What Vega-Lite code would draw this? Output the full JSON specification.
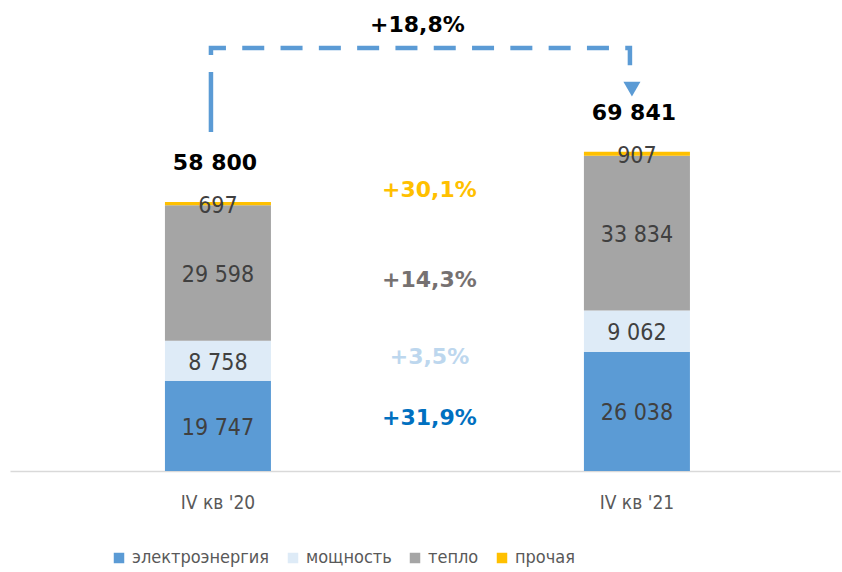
{
  "$schema": "https://vega.github.io/schema/vega-lite/v6.json",
  "width": 830,
  "height": 471,
  "autosize": {"type": "none"},
  "padding": {"left": 10, "top": 0, "right": 2, "bottom": 101},
  "config": {
    "view": {"stroke": null},
    "font": "DejaVu Sans Condensed",
    "locale": {"number": {"decimal": ",", "thousands": " ", "grouping": [3], "currency": ["", ""]}}
  },
  "datasets": {
    "seg": [
      {"q": "IV кв '20", "cat": "электроэнергия", "v": 19747, "ord": 1},
      {"q": "IV кв '20", "cat": "мощность", "v": 8758, "ord": 2},
      {"q": "IV кв '20", "cat": "тепло", "v": 29598, "ord": 3},
      {"q": "IV кв '20", "cat": "прочая", "v": 697, "ord": 4},
      {"q": "IV кв '21", "cat": "электроэнергия", "v": 26038, "ord": 1},
      {"q": "IV кв '21", "cat": "мощность", "v": 9062, "ord": 2},
      {"q": "IV кв '21", "cat": "тепло", "v": 33834, "ord": 3},
      {"q": "IV кв '21", "cat": "прочая", "v": 907, "ord": 4}
    ],
    "tot": [
      {"q": "IV кв '20", "total": 58800},
      {"q": "IV кв '21", "total": 69841}
    ],
    "chg": [
      {"q": "mid", "cat": "прочая", "lbl": "+30,1%", "yv": 61450},
      {"q": "mid", "cat": "тепло", "lbl": "+14,3%", "yv": 41770},
      {"q": "mid", "cat": "мощность", "lbl": "+3,5%", "yv": 24930},
      {"q": "mid", "cat": "электроэнергия", "lbl": "+31,9%", "yv": 11590}
    ],
    "arrow": [
      {"q": "IV кв '20", "yv": 74130, "ord": 1},
      {"q": "IV кв '20", "yv": 92500, "ord": 2},
      {"q": "IV кв '21", "yv": 92500, "ord": 3},
      {"q": "IV кв '21", "yv": 87470, "ord": 4}
    ],
    "head": [{"q": "IV кв '21", "yv": 83530}],
    "total_chg": [{"q": "mid", "lbl": "+18,8%", "yv": 97530}]
  },
  "encoding": {
    "x": {
      "field": "q",
      "type": "nominal",
      "sort": null,
      "scale": {"domain": ["IV кв '20", "mid", "IV кв '21"], "paddingInner": 0.494, "paddingOuter": 0.728, "align": 0.508},
      "axis": {
        "title": null,
        "labelAngle": 0,
        "labelExpr": "datum.label == 'mid' ? '' : datum.label",
        "ticks": false,
        "domainColor": "#D9D9D9",
        "domainWidth": 1.5,
        "labelFontSize": 19,
        "labelColor": "#595959",
        "labelPadding": 22,
        "labelFont": "DejaVu Sans Condensed"
      }
    }
  },
  "layer": [
    {
      "data": {"name": "seg"},
      "mark": {"type": "bar"},
      "encoding": {
        "y": {"field": "v", "type": "quantitative", "aggregate": "sum", "stack": "zero", "scale": {"domain": [0, 103000], "nice": false}, "axis": null},
        "color": {
          "field": "cat",
          "type": "nominal",
          "scale": {"domain": ["электроэнергия", "мощность", "тепло", "прочая"], "range": ["#5B9BD5", "#DEEBF7", "#A5A5A5", "#FFC000"]},
          "legend": {
            "title": null,
            "orient": "none",
            "direction": "horizontal",
            "legendX": 100,
            "legendY": 549,
            "symbolType": "square",
            "symbolSize": 110,
            "symbolStrokeWidth": 0,
            "labelFontSize": 18,
            "labelColor": "#595959",
            "labelFont": "DejaVu Sans Condensed",
            "labelOffset": 4,
            "columnPadding": 14
          }
        },
        "order": {"field": "ord", "type": "quantitative"}
      }
    },
    {
      "data": {"name": "seg"},
      "transform": [
        {"stack": "v", "groupby": ["q"], "sort": [{"field": "ord", "order": "ascending"}], "as": ["y0", "y1"]},
        {"calculate": "(datum.y0 + datum.y1) / 2", "as": "mid"}
      ],
      "mark": {"type": "text", "fontSize": 23, "color": "#404040", "baseline": "middle", "dy": 2},
      "encoding": {
        "y": {"field": "mid", "type": "quantitative"},
        "text": {"field": "v", "type": "quantitative", "format": ",d"}
      }
    },
    {
      "data": {"name": "tot"},
      "mark": {"type": "text", "fontSize": 22, "fontWeight": "bold", "font": "DejaVu Sans", "color": "#000000", "baseline": "middle", "dy": -39, "dx": -3},
      "encoding": {
        "y": {"field": "total", "type": "quantitative"},
        "text": {"field": "total", "type": "quantitative", "format": ",d"}
      }
    },
    {
      "data": {"name": "chg"},
      "mark": {"type": "text", "fontSize": 22, "fontWeight": "bold", "font": "DejaVu Sans", "baseline": "middle", "dx": 2},
      "encoding": {
        "y": {"field": "yv", "type": "quantitative"},
        "text": {"field": "lbl", "type": "nominal"},
        "color": {
          "field": "cat",
          "type": "nominal",
          "scale": {"domain": ["электроэнергия", "мощность", "тепло", "прочая"], "range": ["#0070C0", "#BDD7EE", "#767171", "#FFC000"]},
          "legend": null
        }
      }
    },
    {
      "data": {"name": "arrow"},
      "mark": {"type": "line", "color": "#5B9BD5", "strokeWidth": 4.5, "strokeDash": [60, 17, 22, 16.3, 22, 16.3, 22, 16.3, 22, 16.3, 22, 16.3, 22, 16.3, 22, 16.3, 22, 16.3, 22, 16.3, 22, 16.3, 22, 16.3, 22, 16.3, 30, 20], "xOffset": -7},
      "encoding": {
        "y": {"field": "yv", "type": "quantitative"},
        "order": {"field": "ord", "type": "quantitative"}
      }
    },
    {
      "data": {"name": "head"},
      "mark": {"type": "point", "shape": "triangle-down", "filled": true, "color": "#5B9BD5", "opacity": 1, "size": 290, "xOffset": -5},
      "encoding": {
        "y": {"field": "yv", "type": "quantitative"}
      }
    },
    {
      "data": {"name": "total_chg"},
      "mark": {"type": "text", "fontSize": 22, "fontWeight": "bold", "font": "DejaVu Sans", "color": "#000000", "baseline": "middle", "dx": -10},
      "encoding": {
        "y": {"field": "yv", "type": "quantitative"},
        "text": {"field": "lbl", "type": "nominal"}
      }
    }
  ],
  "resolve": {"scale": {"color": "independent"}}
}
